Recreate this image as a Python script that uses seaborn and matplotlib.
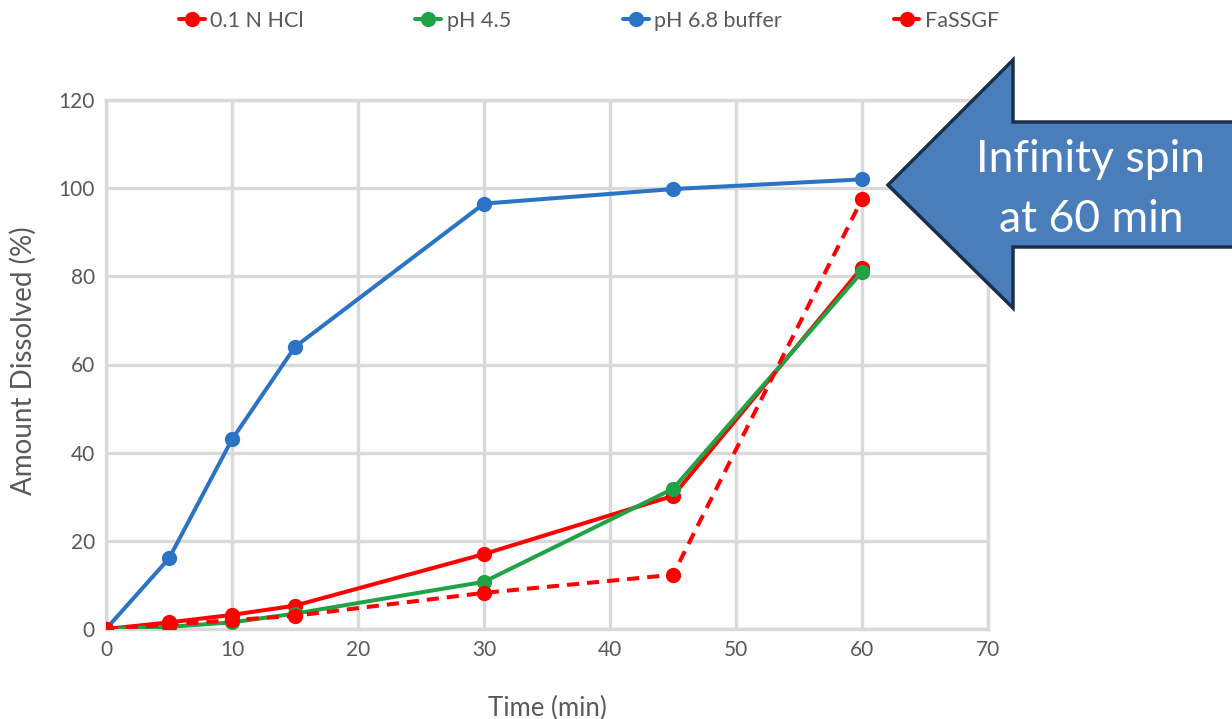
import matplotlib
matplotlib.use("Agg")
import matplotlib.pyplot as plt
from matplotlib.lines import Line2D
from matplotlib.patches import Polygon
import seaborn as sns
import pandas as pd

time_min = [0, 5, 10, 15, 30, 45, 60]
hcl = [0, 1.5, 3.2, 5.3, 17.0, 30.2, 82.0]
ph45 = [0, 0.5, 1.5, 3.5, 10.7, 31.8, 81.0]
ph68 = [0, 16.0, 43.0, 64.0, 96.5, 99.8, 102.0]
fassgf = [0, 1.0, 2.0, 3.0, 8.2, 12.3, 97.5]

series_names = ["0.1 N HCl", "pH 4.5", "pH 6.8 buffer", "FaSSGF"]
RED, GREEN, BLUE = "#FF0000", "#1FA346", "#2B73C4"
GRID = "#D9D9D9"
TXT = "#595959"

sns.set_theme(style="whitegrid")
plt.rcParams["font.family"] = ["Lato", "DejaVu Sans"]

fig = plt.figure(figsize=(12.32, 7.19), dpi=100)
ax = fig.add_axes([106/1232, 1-629/719, (988-106)/1232, (629-100)/719])
ax.set_facecolor("white")

df = pd.DataFrame({"t": time_min, "hcl": hcl, "ph45": ph45, "ph68": ph68, "fassgf": fassgf})

lw, ms = 2.9, 11
sns.lineplot(data=df, x="t", y="ph68", ax=ax, color=BLUE, marker="o", markersize=ms,
             markeredgewidth=0, linewidth=lw, zorder=3)
sns.lineplot(data=df, x="t", y="hcl", ax=ax, color=RED, marker="o", markersize=ms,
             markeredgewidth=0, linewidth=lw, zorder=3)
sns.lineplot(data=df, x="t", y="ph45", ax=ax, color=GREEN, marker="o", markersize=ms,
             markeredgewidth=0, linewidth=lw, zorder=4)
sns.lineplot(data=df, x="t", y="fassgf", ax=ax, color=RED, marker="o", markersize=ms,
             markeredgewidth=0, linewidth=lw, linestyle=(0, (3, 2)), zorder=5)

ax.set_xlim(0, 70)
ax.set_ylim(0, 120)
ax.set_xticks(range(0, 71, 10))
ax.set_yticks(range(0, 121, 20))
ax.grid(True, color=GRID, linewidth=2.4)
for s in ax.spines.values():
    s.set_color(GRID)
    s.set_linewidth(2.4)
ax.tick_params(axis="both", colors=TXT, labelsize=15, length=0, pad=8)
ax.set_xlabel("Time (min)", color=TXT, fontsize=18.5, labelpad=26)
ax.set_ylabel("Amount Dissolved (%)", color=TXT, fontsize=20)
ax.yaxis.set_label_coords(-0.078, 0.507)

handles = [
    Line2D([], [], color=c, marker="o", markersize=ms, markeredgewidth=0, linewidth=lw)
    for c in [RED, GREEN, BLUE, RED]
]
leg = fig.legend(handles, series_names, loc="upper center", bbox_to_anchor=(0.478, 1.012),
                 ncol=4, frameon=False, fontsize=15.5, columnspacing=5.2, handlelength=1.2,
                 handletextpad=0.25)
for t in leg.get_texts():
    t.set_color(TXT)

# Callout arrow (figure pixel coordinates, y from top)
W, H = 1232, 719
pts = [(888, 185), (1013, 60), (1013, 122), (1240, 122), (1240, 247), (1013, 247), (1013, 308)]
poly = Polygon([(x / W, 1 - y / H) for x, y in pts], closed=True, transform=fig.transFigure,
               facecolor="#4A7EBB", edgecolor="#1B2E4B", linewidth=2.5, zorder=10)
fig.patches.append(poly)
fig.text(1091/W, 1 - 160/H, "Infinity spin", color="white", fontsize=32, ha="center",
         va="center", zorder=11)
fig.text(1091/W, 1 - 219/H, "at 60 min", color="white", fontsize=32, ha="center",
         va="center", zorder=11)

fig.savefig("out.png", dpi=100)
